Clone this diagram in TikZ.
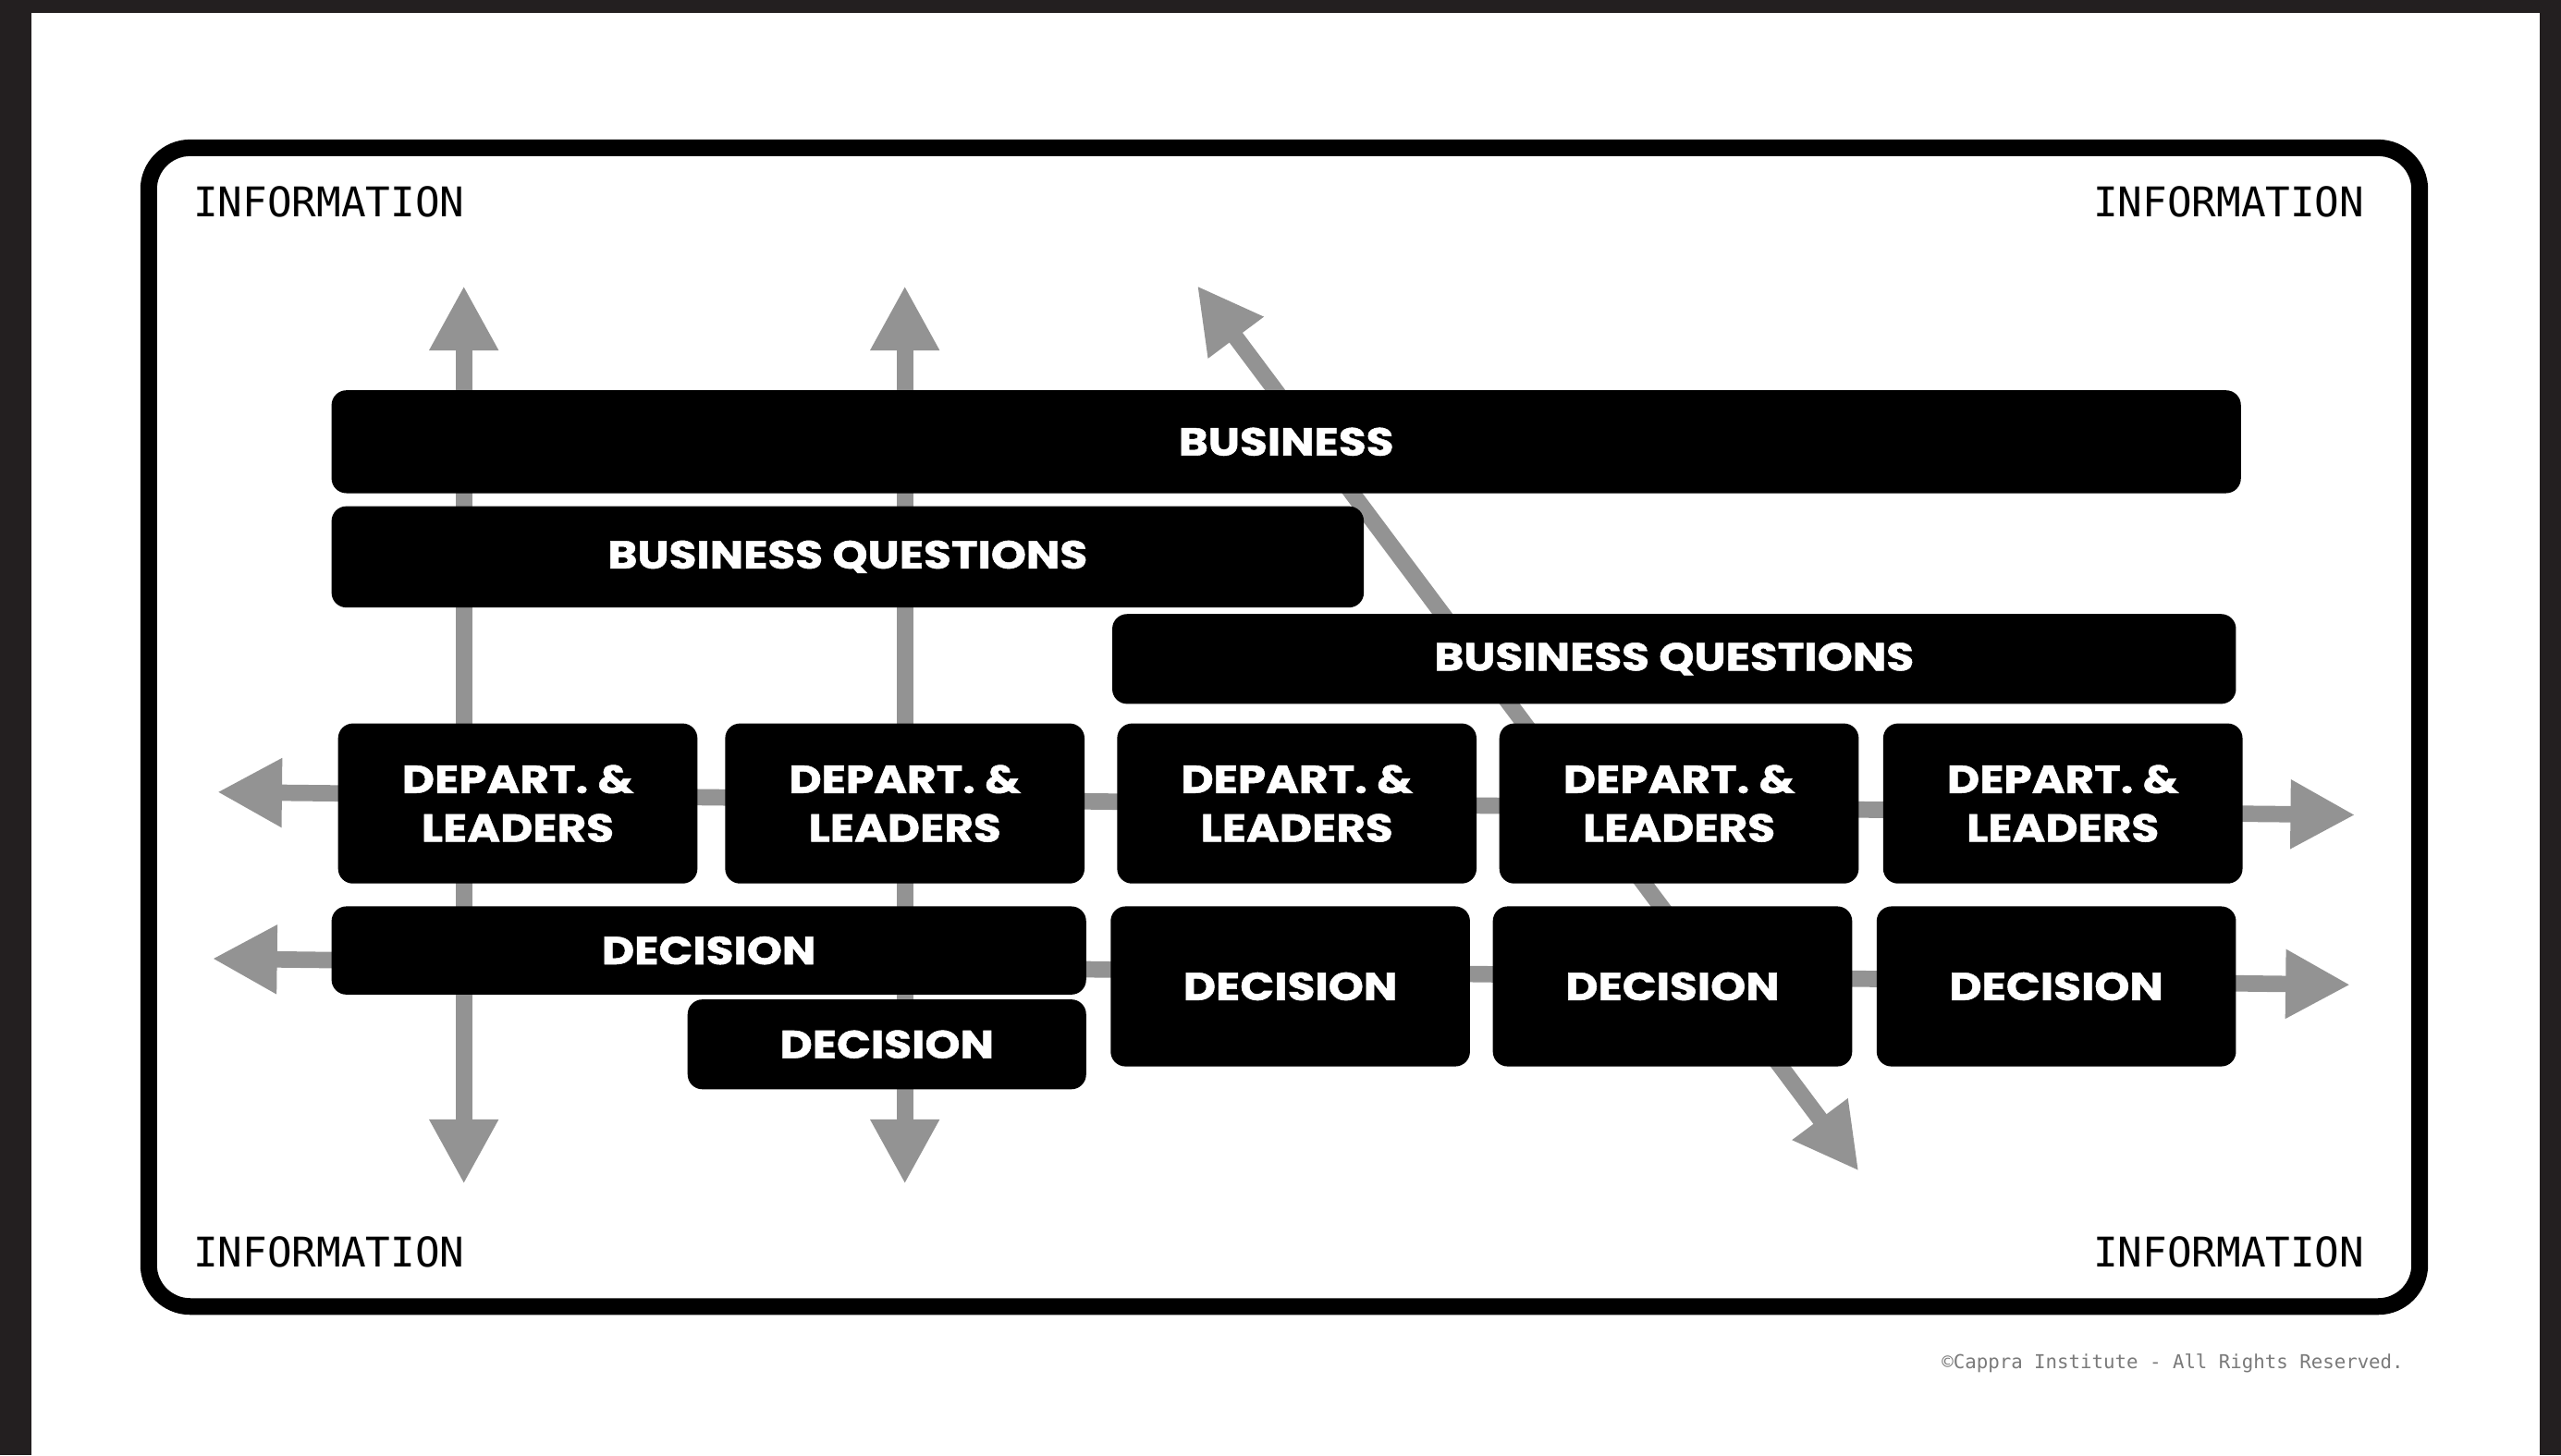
\documentclass[tikz,border=0pt]{standalone}
\usepackage{fontspec}
\newfontfamily\boxfont{Poppins}[FakeStretch=1.15, BoldFeatures={FakeBold=1.2}]
\newfontfamily\infofont{DejaVu Sans Mono}
\usetikzlibrary{arrows.meta,fit}

\definecolor{framedark}{HTML}{231F20}
\definecolor{flowgray}{HTML}{939393}
\definecolor{notegray}{HTML}{7A7A7A}

\tikzset{
  blackbox/.style={fill=black, rounded corners=1.6mm, inner sep=0pt},
  boxlabel/.style={text=white, inner sep=0pt, align=center,
    font=\boxfont\bfseries\fontsize{12}{15}\selectfont},
  flow/.style={draw=flowgray, line width=1.77mm,
    {Triangle[length=7mm,width=7mm]}-{Triangle[length=7mm,width=7mm]}},
  infotext/.style={font=\infofont\fontsize{12.6}{14}\selectfont, inner sep=0pt}
}

\begin{document}
\begin{tikzpicture}[x=0.17666mm,y=-0.17666mm]
%\draw [help lines,black!20!white] (0,0) grid[step=100] (1568,891);

% page and dark frame
\fill[white] (0,0) rectangle (1568,891);
\fill[framedark] (0,0) rectangle (1568,8);
\fill[framedark] (0,0) rectangle (19,891);
\fill[framedark] (1555,0) rectangle (1568,891);
\useasboundingbox (0,0) rectangle (1568,891);

\draw[line width=1.8mm, rounded corners=4.5mm] (91,90.5) rectangle (1481.5,800);

\node (infotl) [infotext, anchor=base west] at (118,133) {INFORMATION};
\node (infotr) [infotext, anchor=base east] at (1448,133) {INFORMATION};
\node (infobl) [infotext, anchor=base west] at (118,776) {INFORMATION};
\node (infobr) [infotext, anchor=base east] at (1448,776) {INFORMATION};
\node (rights) [anchor=base east, inner sep=0pt, text=notegray,
  font=\infofont\fontsize{5.9}{7}\selectfont] at (1472,838)
  {©Cappra Institute - All Rights Reserved.};

% information flows
\coordinate (vonetop) at (284,175);
\coordinate (vonebot) at (284,725);
\coordinate (vtwotop) at (554,175);
\coordinate (vtwobot) at (554,725);
\coordinate (diagtop) at (733,175);
\coordinate (diagbot) at (1138,717);
\coordinate (honeleft) at (133,485);
\coordinate (honeright) at (1442,499);
\coordinate (htwoleft) at (130,587);
\coordinate (htworight) at (1439,603);

\draw[flow] (vonetop) -- (vonebot);
\draw[flow] (vtwotop) -- (vtwobot);
\draw[flow] (diagtop) -- (diagbot);
\draw[flow] (honeleft) -- (honeright);
\draw[flow] (htwoleft) -- (htworight);

% business
\node (busn) [blackbox, fit={(203,239) (1372,302)},
  label={[boxlabel]center:BUSINESS}] {};
\node (bqone) [blackbox, fit={(203,310) (835,372)},
  label={[boxlabel]center:BUSINESS QUESTIONS}] {};
\node (bqtwo) [blackbox, fit={(681,376) (1369,431)},
  label={[boxlabel]center:BUSINESS QUESTIONS}] {};

% departments
\node (deptone) [blackbox, fit={(207,443) (427,541)},
  label={[boxlabel]center:DEPART. \&\\LEADERS}] {};
\node (depttwo) [blackbox, fit={(444,443) (664,541)},
  label={[boxlabel]center:DEPART. \&\\LEADERS}] {};
\node (deptthree) [blackbox, fit={(684,443) (904,541)},
  label={[boxlabel]center:DEPART. \&\\LEADERS}] {};
\node (deptfour) [blackbox, fit={(918,443) (1138,541)},
  label={[boxlabel]center:DEPART. \&\\LEADERS}] {};
\node (deptfive) [blackbox, fit={(1153,443) (1373,541)},
  label={[boxlabel]center:DEPART. \&\\LEADERS}] {};

% decisions
\node (decwide) [blackbox, fit={(203,555) (665,609)},
  label={[boxlabel]center:DECISION}] {};
\node (decsmall) [blackbox, fit={(421,612) (665,667)},
  label={[boxlabel]center:DECISION}] {};
\node (decone) [blackbox, fit={(680,555) (900,653)},
  label={[boxlabel]center:DECISION}] {};
\node (dectwo) [blackbox, fit={(914,555) (1134,653)},
  label={[boxlabel]center:DECISION}] {};
\node (decthree) [blackbox, fit={(1149,555) (1369,653)},
  label={[boxlabel]center:DECISION}] {};

\end{tikzpicture}
\end{document}
